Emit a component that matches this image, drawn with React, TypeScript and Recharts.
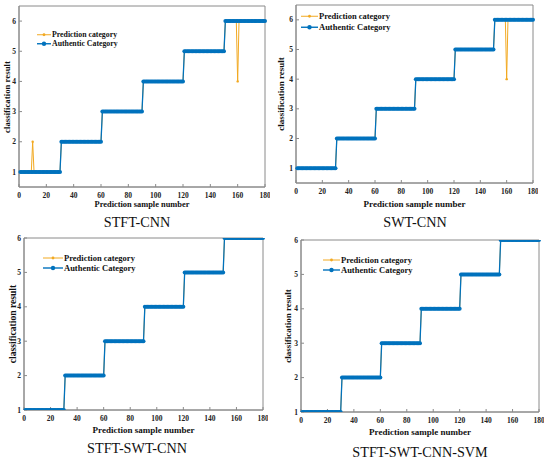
import React from 'react';
import { LineChart, Line, XAxis, YAxis, ReferenceArea } from 'recharts';

// true class of each of the 180 test samples
const authenticCategory: number[] = [
  1, 1, 1, 1, 1, 1, 1, 1, 1, 1, 1, 1, 1, 1, 1, 1, 1, 1, 1, 1, 1, 1, 1, 1, 1, 1, 1, 1, 1, 1,
  2, 2, 2, 2, 2, 2, 2, 2, 2, 2, 2, 2, 2, 2, 2, 2, 2, 2, 2, 2, 2, 2, 2, 2, 2, 2, 2, 2, 2, 2,
  3, 3, 3, 3, 3, 3, 3, 3, 3, 3, 3, 3, 3, 3, 3, 3, 3, 3, 3, 3, 3, 3, 3, 3, 3, 3, 3, 3, 3, 3,
  4, 4, 4, 4, 4, 4, 4, 4, 4, 4, 4, 4, 4, 4, 4, 4, 4, 4, 4, 4, 4, 4, 4, 4, 4, 4, 4, 4, 4, 4,
  5, 5, 5, 5, 5, 5, 5, 5, 5, 5, 5, 5, 5, 5, 5, 5, 5, 5, 5, 5, 5, 5, 5, 5, 5, 5, 5, 5, 5, 5,
  6, 6, 6, 6, 6, 6, 6, 6, 6, 6, 6, 6, 6, 6, 6, 6, 6, 6, 6, 6, 6, 6, 6, 6, 6, 6, 6, 6, 6, 6,
];

// samples where the prediction differs from the true class, per model
const stftCnnErrors = [
  { sample: 10, predicted: 2 },
  { sample: 160, predicted: 4 },
];
const swtCnnErrors = [{ sample: 160, predicted: 4 }];
const stftSwtCnnErrors: { sample: number; predicted: number }[] = [];
const stftSwtCnnSvmErrors: { sample: number; predicted: number }[] = [];

const panelTitles = ['STFT-CNN', 'SWT-CNN', 'STFT-SWT-CNN', 'STFT-SWT-CNN-SVM'];
const legendLabels = ['Prediction category', 'Authentic Category'];
const xTicks = [0, 20, 40, 60, 80, 100, 120, 140, 160, 180];
const yTicks = [1, 2, 3, 4, 5, 6];

const BLUE = '#0072BD';
const ORANGE = '#F2A921';
const FRAME = '#8a8a8a';
const SERIF = '"Liberation Serif", "Times New Roman", serif';

const buildRows = (errors: { sample: number; predicted: number }[]) =>
  authenticCategory.map((a, i) => {
    const err = errors.find((e) => e.sample === i + 1);
    return { sample: i + 1, authentic: a, predicted: err ? err.predicted : a };
  });

const panelErrors = [stftCnnErrors, swtCnnErrors, stftSwtCnnErrors, stftSwtCnnSvmErrors];

const layouts = [
  { x0: 0, left: 19, right: 265, top: 6, bottom: 187, yDomain: [0.5, 6.5], lgX: 37, lgY: 29.5, lgW: 14, lgRow: 9.5, lgFont: 7.8, yLabX: 7, yLabFont: 8.8, xLabY: 204, xLabFont: 8.4, titleX: 137, titleY: 222 },
  { x0: 275, left: 296, right: 533, top: 5, bottom: 183, yDomain: [0.5, 6.5], lgX: 301, lgY: 11, lgW: 17, lgRow: 10.5, lgFont: 8.5, yLabX: 281, yLabFont: 9, xLabY: 204, xLabFont: 9, titleX: 415, titleY: 222 },
  { x0: 0, left: 24, right: 263, top: 238, bottom: 410, yDomain: [1, 6], lgX: 43, lgY: 253, lgW: 20, lgRow: 10, lgFont: 8.5, yLabX: 12, yLabFont: 9.6, xLabY: 430, xLabFont: 9, titleX: 137, titleY: 448 },
  { x0: 275, left: 301, right: 539, top: 240, bottom: 412, yDomain: [1, 6], lgX: 323, lgY: 255, lgW: 17, lgRow: 10, lgFont: 8.5, yLabX: 288, yLabFont: 9, xLabY: 432, xLabFont: 9, titleX: 420, titleY: 452 },
];

const LegendBox: React.FC<{ x: number; y: number; lineW: number; rowH: number; font: number }> = ({ x, y, lineW, rowH, font }) => (
  <div style={{ position: 'absolute', left: x, top: y, fontFamily: SERIF, fontWeight: 'bold', fontSize: font, color: '#111' }}>
    {legendLabels.map((label, i) => {
      const color = i === 0 ? ORANGE : BLUE;
      return (
        <div key={label} style={{ display: 'flex', alignItems: 'center', height: rowH, whiteSpace: 'nowrap' }}>
          <svg width={lineW} height={rowH} style={{ display: 'block' }}>
            <line x1={0} y1={rowH / 2} x2={lineW} y2={rowH / 2} stroke={color} strokeWidth={i === 0 ? 1 : 1.4} />
            <circle cx={lineW / 2} cy={rowH / 2} r={i === 0 ? 1.4 : 2.2} fill={color} />
          </svg>
          <span style={{ marginLeft: 1 }}>{label}</span>
        </div>
      );
    })}
  </div>
);

const Panel: React.FC<{ idx: number }> = ({ idx }) => {
  const l = layouts[idx];
  const chartTop = l.top - 5;
  const width = l.right - l.x0 + 5;
  const height = l.bottom - chartTop + 20;
  const rows = buildRows(panelErrors[idx]);
  const tickStyle = { fontFamily: SERIF, fontWeight: 'bold' as const, fontSize: 7.5, fill: '#222' };
  const plotMidY = (l.top + l.bottom) / 2;
  const plotMidX = (l.left + l.right) / 2;
  return (
    <>
      <div style={{ position: 'absolute', left: l.x0, top: chartTop }}>
        <LineChart width={width} height={height} data={rows} margin={{ top: 4, right: 4, left: 0, bottom: 0 }}>
          <XAxis
            dataKey="sample"
            type="number"
            domain={[0, 180]}
            ticks={xTicks}
            height={20}
            tick={tickStyle}
            tickSize={-3}
            tickMargin={9}
            stroke={FRAME}
            interval={0}
          />
          <XAxis
            xAxisId="top"
            orientation="top"
            type="number"
            domain={[0, 180]}
            ticks={xTicks}
            height={1}
            tick={false}
            tickSize={-3}
            axisLine={false}
            stroke={FRAME}
            interval={0}
          />
          <YAxis
            type="number"
            domain={l.yDomain as [number, number]}
            ticks={yTicks}
            width={l.left - l.x0}
            tick={tickStyle}
            tickSize={-3}
            tickMargin={6}
            stroke={FRAME}
            interval={0}
            allowDataOverflow
          />
          <YAxis
            yAxisId="right"
            orientation="right"
            type="number"
            domain={l.yDomain as [number, number]}
            ticks={yTicks}
            width={1}
            tick={false}
            tickSize={-3}
            axisLine={false}
            stroke={FRAME}
            interval={0}
          />
          <ReferenceArea
            x1={0}
            x2={180}
            y1={l.yDomain[0]}
            y2={l.yDomain[1]}
            fill="none"
            stroke={FRAME}
            strokeWidth={1}
            ifOverflow="visible"
          />
          <Line
            dataKey="predicted"
            name={legendLabels[0]}
            type="linear"
            stroke={ORANGE}
            strokeWidth={1}
            dot={{ r: 1.2, fill: ORANGE, stroke: 'none' }}
            isAnimationActive={false}
          />
          <Line
            dataKey="authentic"
            name={legendLabels[1]}
            type="linear"
            stroke={BLUE}
            strokeWidth={1.3}
            dot={{ r: 2, fill: BLUE, stroke: 'none' }}
            isAnimationActive={false}
          />
        </LineChart>
      </div>
      <LegendBox x={l.lgX} y={l.lgY} lineW={l.lgW} rowH={l.lgRow} font={l.lgFont} />
      <div
        style={{
          position: 'absolute',
          left: l.yLabX,
          top: plotMidY,
          transform: 'translate(-50%, -50%) rotate(-90deg)',
          fontFamily: SERIF,
          fontWeight: 'bold',
          fontSize: l.yLabFont,
          whiteSpace: 'nowrap',
          color: '#111',
        }}
      >
        classification result
      </div>
      <div
        style={{
          position: 'absolute',
          left: plotMidX,
          top: l.xLabY,
          transform: 'translate(-50%, -50%)',
          fontFamily: SERIF,
          fontWeight: 'bold',
          fontSize: l.xLabFont,
          whiteSpace: 'nowrap',
          color: '#111',
        }}
      >
        Prediction sample number
      </div>
      <div
        style={{
          position: 'absolute',
          left: l.titleX,
          top: l.titleY,
          transform: 'translate(-50%, -50%)',
          fontFamily: SERIF,
          fontSize: 14.2,
          whiteSpace: 'nowrap',
          color: '#111',
        }}
      >
        {panelTitles[idx]}
      </div>
    </>
  );
};

export default function App() {
  return (
    <div style={{ position: 'absolute', left: 0, top: 0, width: 550, height: 462, background: '#fff', overflow: 'hidden' }}>
      {layouts.map((_, i) => (
        <Panel key={i} idx={i} />
      ))}
    </div>
  );
}
